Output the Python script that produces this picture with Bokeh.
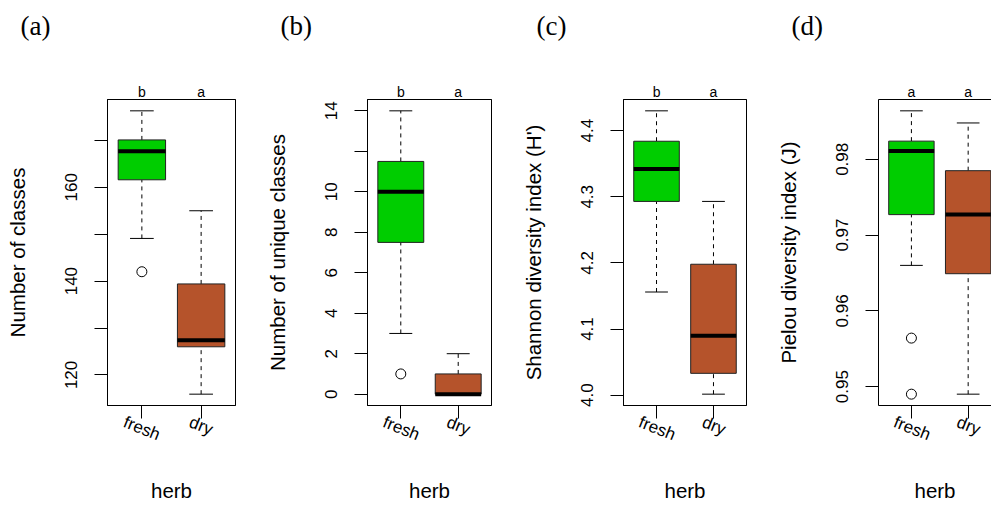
import math
from bokeh.plotting import figure
from bokeh.models import FixedTicker, LinearAxis, Range1d, ColumnDataSource
from bokeh.layouts import row
from bokeh.embed import file_html
from bokeh.resources import INLINE

# ---------------- data ----------------
groups = ["fresh", "dry"]
box_colors = ["#00CD00", "#B5532B"]
x_label = "herb"

tags = ["(a)", "(b)", "(c)", "(d)"]
y_titles = ["Number of classes", "Number of unique classes",
            "Shannon diversity index (H')", "Pielou diversity index (J)"]

# panel (a) Number of classes
a_letters = ["b", "a"]
a_lo = [149.1, 115.9]
a_q1 = [161.6, 126.0]
a_med = [167.7, 127.4]
a_q3 = [170.1, 139.4]
a_hi = [176.3, 155.0]
a_out = [[142.0], []]
a_ticks = [120, 130, 140, 150, 160, 170]
a_tick_labels = ["120", "", "140", "", "160", ""]

# panel (b) Number of unique classes
b_letters = ["b", "a"]
b_lo = [3.0, 0.0]
b_q1 = [7.5, 0.0]
b_med = [10.0, 0.0]
b_q3 = [11.5, 1.0]
b_hi = [14.0, 2.0]
b_out = [[1.0], []]
b_ticks = [0, 2, 4, 6, 8, 10, 12, 14]
b_tick_labels = ["0", "2", "4", "6", "8", "10", "", "14"]

# panel (c) Shannon diversity index
c_letters = ["b", "a"]
c_lo = [4.156, 4.0015]
c_q1 = [4.293, 4.033]
c_med = [4.342, 4.090]
c_q3 = [4.384, 4.198]
c_hi = [4.430, 4.293]
c_out = [[], []]
c_ticks = [4.0, 4.1, 4.2, 4.3, 4.4]
c_tick_labels = ["4.0", "4.1", "4.2", "4.3", "4.4"]

# panel (d) Pielou diversity index
d_letters = ["a", "a"]
d_lo = [0.9660, 0.9490]
d_q1 = [0.9727, 0.9649]
d_med = [0.9811, 0.9727]
d_q3 = [0.9824, 0.9785]
d_hi = [0.9864, 0.9848]
d_out = [[0.9564, 0.9490], []]
d_ticks = [0.95, 0.96, 0.97, 0.98]
d_tick_labels = ["0.95", "0.96", "0.97", "0.98"]

SANS = "Liberation Sans"
SERIF = "Liberation Serif"

FRAME_W = 128
X0, X1 = 0.42, 2.58
LABEL_ANGLE = 0.38          # clockwise rotation of group names (radians)
LABEL_PX = 17               # group-name font size
# approximate Liberation Sans advance widths (em) for centring rotated names
_ADV = {"f": 0.278, "r": 0.333, "e": 0.556, "s": 0.5, "h": 0.556, "d": 0.556, "y": 0.5}


def text_width(s, px):
    return sum(_ADV.get(ch, 0.556) for ch in s) * px


def panel(tag, ytitle, letters, lo, q1, med, q3, hi, outs, ticks, tick_labels,
          width, left, right, clipped=False):
    xs = [i + 1 for i in range(len(groups))]
    allv = lo + hi + [v for o in outs for v in o]
    ymin, ymax = min(allv), max(allv)
    pad = 0.04 * (ymax - ymin)
    y0, y1 = ymin - pad, ymax + pad
    frame_w = width - left - right
    x_end = X0 + (X1 - X0) * frame_w / FRAME_W
    px_per_unit = FRAME_W / (X1 - X0)

    p = figure(width=width, height=506, output_backend="svg", toolbar_location=None,
               x_range=Range1d(X0, x_end), y_range=Range1d(y0, y1),
               min_border_left=left, min_border_right=right,
               min_border_top=99, min_border_bottom=101,
               background_fill_color="white", border_fill_color="white")
    p.xgrid.visible = False
    p.ygrid.visible = False
    p.outline_line_color = None if clipped else "black"
    p.outline_line_width = 1

    # y axis
    ya = p.yaxis[0]
    ya.ticker = FixedTicker(ticks=ticks)
    ya.major_label_overrides = {t: l for t, l in zip(ticks, tick_labels)}
    ya.major_label_orientation = "vertical"
    ya.major_tick_out = 13
    ya.major_tick_in = 0
    ya.minor_tick_out = 0
    ya.minor_tick_in = 0
    ya.major_label_standoff = 17
    ya.major_label_text_font = SANS
    ya.major_label_text_font_size = "17px"
    ya.major_label_text_color = "black"
    ya.axis_line_color = "black"
    ya.major_tick_line_color = "black"
    ya.axis_label = ytitle
    ya.axis_label_text_font = SANS
    ya.axis_label_text_font_size = "20.5px"
    ya.axis_label_text_font_style = "normal"
    ya.axis_label_text_color = "black"
    ya.axis_label_standoff = 34

    # x axis: tick marks only
    xa = p.xaxis[0]
    xa.ticker = FixedTicker(ticks=xs)
    xa.major_label_overrides = {x: "" for x in xs}
    xa.major_label_text_font_size = "0px"
    xa.major_label_standoff = 0
    xa.major_tick_out = 13
    xa.major_tick_in = 0
    xa.minor_tick_out = 0
    xa.minor_tick_in = 0
    xa.axis_line_color = "black"
    xa.major_tick_line_color = "black"

    # second bottom axis: rotated group names centred under the ticks
    shift = [text_width(g, LABEL_PX) / 2 * math.cos(LABEL_ANGLE) / px_per_unit for g in groups]
    lx = [x - s for x, s in zip(xs, shift)]
    xb = LinearAxis(ticker=FixedTicker(ticks=lx),
                    major_label_overrides={x: g for x, g in zip(lx, groups)},
                    major_label_orientation=-LABEL_ANGLE,
                    major_label_standoff=3,
                    major_label_text_font=SANS,
                    major_label_text_font_size=f"{LABEL_PX}px",
                    major_label_text_color="black",
                    major_tick_out=0, major_tick_in=0, minor_tick_out=0, minor_tick_in=0,
                    axis_line_color=None,
                    axis_label=x_label, axis_label_text_font=SANS,
                    axis_label_text_font_size="20.5px", axis_label_text_font_style="normal",
                    axis_label_text_color="black", axis_label_standoff=23)
    p.add_layout(xb, "below")

    # top axis with significance letters
    top = LinearAxis(ticker=FixedTicker(ticks=xs),
                     major_label_overrides={x: l for x, l in zip(xs, letters)},
                     major_tick_out=0, major_tick_in=0, minor_tick_out=0, minor_tick_in=0,
                     major_label_standoff=0, major_label_text_font=SANS,
                     major_label_text_font_size="14px", major_label_text_color="black",
                     axis_line_color="black")
    p.add_layout(top, "above")
    # blank spacer between the letters and the panel tag (white tick on white border)
    spacer = LinearAxis(ticker=FixedTicker(ticks=xs[:1]),
                        major_label_overrides={xs[0]: ""},
                        major_tick_out=35, major_tick_in=0,
                        minor_tick_out=0, minor_tick_in=0, axis_line_color=None,
                        major_tick_line_color="white", major_label_standoff=0,
                        major_label_text_font_size="0px")
    p.add_layout(spacer, "above")

    # panel tag as title
    p.title.text = tag
    p.title.align = "left"
    p.title.offset = -87
    p.title.standoff = 10
    p.title.text_font = SERIF
    p.title.text_font_size = "27px"
    p.title.text_font_style = "normal"
    p.title.text_color = "black"

    src = ColumnDataSource(dict(
        x=xs, lo=lo, q1=q1, med=med, q3=q3, hi=hi, color=box_colors,
        xl=[x - 0.4 for x in xs], xr=[x + 0.4 for x in xs],
        cl=[x - 0.2 for x in xs], cr=[x + 0.2 for x in xs]))

    # whiskers
    p.segment(x0="x", x1="x", y0="q3", y1="hi", source=src, line_color="black",
              line_width=1, line_dash="4 4")
    p.segment(x0="x", x1="x", y0="lo", y1="q1", source=src, line_color="black",
              line_width=1, line_dash="4 4")
    # caps
    p.segment(x0="cl", x1="cr", y0="hi", y1="hi", source=src, line_color="black", line_width=1)
    p.segment(x0="cl", x1="cr", y0="lo", y1="lo", source=src, line_color="black", line_width=1)
    # boxes
    p.vbar(x="x", bottom="q1", top="q3", width=0.8, source=src, fill_color="color",
           line_color="#222222", line_width=1)
    # medians
    p.segment(x0="xl", x1="xr", y0="med", y1="med", source=src, line_color="black",
              line_width=4)
    # outliers
    ox = [x for x, o in zip(xs, outs) for _ in o]
    oy = [v for o in outs for v in o]
    if ox:
        p.scatter(ox, oy, marker="circle", size=10, fill_color="white",
                  line_color="black", line_width=1)
    return p


pa = panel(tags[0], y_titles[0], a_letters, a_lo, a_q1, a_med, a_q3, a_hi, a_out,
           a_ticks, a_tick_labels, 262, 107, 27)
pb = panel(tags[1], y_titles[1], b_letters, b_lo, b_q1, b_med, b_q3, b_hi, b_out,
           b_ticks, b_tick_labels, 256, 101, 27)
pc = panel(tags[2], y_titles[2], c_letters, c_lo, c_q1, c_med, c_q3, c_hi, c_out,
           c_ticks, c_tick_labels, 255, 100, 27)
pd_ = panel(tags[3], y_titles[3], d_letters, d_lo, d_q1, d_med, d_q3, d_hi, d_out,
            d_ticks, d_tick_labels, 218, 100, 0, clipped=True)

layout = row(pa, pb, pc, pd_, spacing=0)
open("out.html", "w").write(file_html(layout, INLINE))
